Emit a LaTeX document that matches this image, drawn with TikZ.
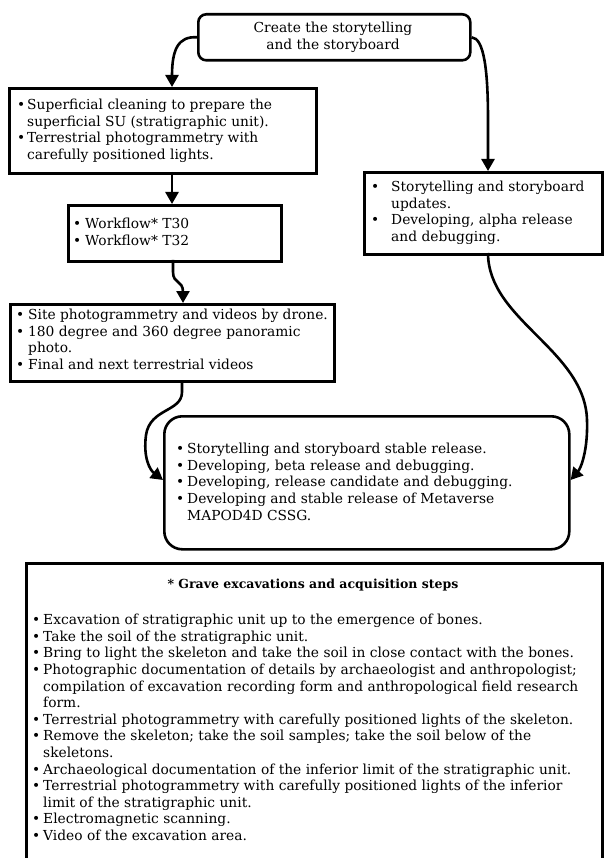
\documentclass[tikz,border=0pt]{standalone}
\usepackage{fontspec}
\setmainfont{DejaVu Serif}
\usetikzlibrary{arrows.meta,calc}
\newcommand{\bl}[1][11pt]{\makebox[#1][l]{•}}
\begin{document}
\begin{tikzpicture}[x=1pt,y=-1pt,
  box/.style={draw, line width=2.6pt, rectangle, inner sep=0pt, anchor=north west},
  rbox/.style={box, rounded corners=#1},
  txt/.style={inner sep=0pt, align=left, anchor=north west, font=\fontsize{13.8}{16.6}\selectfont},
  arr/.style={line width=2.6pt, -{Triangle[length=12pt,width=13pt]}}]
\useasboundingbox (0,0) rectangle (605,858);

% boxes
\node[rbox=8pt, minimum width=272pt, minimum height=46pt] (top) at (197,13) {};
\node[box, minimum width=307pt, minimum height=85pt] (b1) at (8,87) {};
\node[box, minimum width=213pt, minimum height=56pt] (b2) at (67,204) {};
\node[box, minimum width=324pt, minimum height=77pt] (b3) at (9,303) {};
\node[box, minimum width=238pt, minimum height=82pt] (rb) at (363,171) {};
\node[rbox=18pt, minimum width=405pt, minimum height=133pt] (b4) at (163,415) {};
\node[box, minimum width=576pt, minimum height=320pt] (b5) at (25,562) {};

% texts
\node[inner sep=0pt, align=center, font=\fontsize{13.8}{16.6}\selectfont] (ttop) at (333,37)
  {Create the storytelling\\and the storyboard};
\node[txt] (t1) at (17,99)
  {\bl[10pt]Superficial cleaning to prepare the\\
   \hspace*{10pt}superficial SU (stratigraphic unit).\\
   \bl[10pt]Terrestrial photogrammetry with\\
   \hspace*{10pt}carefully positioned lights.};
\node[txt] (t2) at (73,218)
  {\bl[12pt]Workflow* T30\\\bl[12pt]Workflow* T32};
\node[txt] (t3) at (16,309)
  {\bl[12pt]Site photogrammetry and videos by drone.\\
   \bl[12pt]180 degree and 360 degree panoramic\\
   \hspace*{12pt}photo.\\
   \bl[12pt]Final and next terrestrial videos};
\node[txt] (tr) at (371,181)
  {\bl[20pt]Storytelling and storyboard\\
   \hspace*{20pt}updates.\\
   \bl[20pt]Developing, alpha release\\
   \hspace*{20pt}and debugging.};
\node[txt] (t4) at (176,443)
  {\bl[11pt]Storytelling and storyboard stable release.\\
   \bl[11pt]Developing, beta release and debugging.\\
   \bl[11pt]Developing, release candidate and debugging.\\
   \bl[11pt]Developing and stable release of Metaverse\\
   \hspace*{11pt}MAPOD4D CSSG.};
\node[inner sep=0pt, font=\fontsize{12.5}{16.6}\selectfont\bfseries] (ttl) at (313,585)
  {* Grave excavations and acquisition steps};
\node[txt] (t5) at (32,614)
  {\bl Excavation of stratigraphic unit up to the emergence of bones.\\
   \bl Take the soil of the stratigraphic unit.\\
   \bl Bring to light the skeleton and take the soil in close contact with the bones.\\
   \bl Photographic documentation of details by archaeologist and anthropologist;\\
   \hspace*{11pt}compilation of excavation recording form and anthropological field research\\
   \hspace*{11pt}form.\\
   \bl Terrestrial photogrammetry with carefully positioned lights of the skeleton.\\
   \bl Remove the skeleton; take the soil samples; take the soil below of the\\
   \hspace*{11pt}skeletons.\\
   \bl Archaeological documentation of the inferior limit of the stratigraphic unit.\\
   \bl Terrestrial photogrammetry with carefully positioned lights of the inferior\\
   \hspace*{11pt}limit of the stratigraphic unit.\\
   \bl Electromagnetic scanning.\\
   \bl Video of the excavation area.};

% connector end points
\coordinate (e1) at (172,87);
\coordinate (e2) at (488,171);
\coordinate (s3) at (172,172);
\coordinate (e3) at (172,204);
\coordinate (s4) at (173,260);
\coordinate (e4) at (183,303);
\coordinate (s5) at (182,380);
\coordinate (s6) at (488,253);

% connectors
\draw[arr] (top.west) .. controls (178,36) and (172,50) .. (e1);
\draw[arr] (top.east) .. controls (484,38) and (488,70) .. (488,120) -- (e2);
\draw[arr] (s3) -- (e3);
\draw[arr] (s4) -- (173,272) .. controls (173,284) and (183,280) .. (183,292) -- (e4);
\draw[arr] (s5) -- (182,392) .. controls (182,412) and (150,408) .. (146,435)
  .. controls (143,458) and (150,470) .. (b4.west |- 0,480);
\draw[arr] (s6) .. controls (488,320) and (585,350) .. (587,420)
  .. controls (588,450) and (581,468) .. (b4.east |- 0,480);
\end{tikzpicture}
\end{document}
